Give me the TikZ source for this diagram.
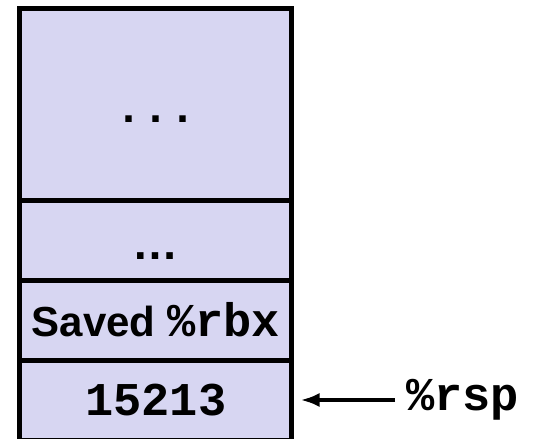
\documentclass[tikz,border=0pt]{standalone}
\usepackage{fontspec}
\setmainfont{Liberation Sans}
\setmonofont{Liberation Mono}
\usetikzlibrary{positioning,arrows.meta}
\definecolor{stackfill}{RGB}{215,214,242}
\newcommand\regfont{\ttfamily\bfseries\fontsize{47}{47}\selectfont}

\begin{document}
\begin{tikzpicture}[
  x=1pt, y=-1pt,
  node distance=0pt,
  cell/.style={draw, fill=stackfill, line width=5pt, minimum width=272pt,
    outer sep=0pt, inner sep=0pt, font=\bfseries\fontsize{42}{42}\selectfont},
  code/.style={font=\regfont},
  arr/.style={-{Latex[length=19pt,width=14pt]}, line width=4.5pt}
]
\useasboundingbox (0,0) rectangle (536,439);

% stack cells, top to bottom
\node[cell, minimum height=192pt, text height=35pt, text depth=0pt] (older) at (155.8,104.5)
  {\ttfamily\fontsize{45}{45}\selectfont ...};
\node[cell, minimum height=79.5pt, text height=37.5pt, text depth=0pt, below=of older] (more)
  {\fontsize{46}{46}\selectfont …};
\node[cell, minimum height=80pt, below=of more] (saved) {Saved {\regfont\%rbx}};
\node[cell, minimum height=80pt, below=of saved, code] (val) {15213};

% stack pointer
\node[code, anchor=west, inner xsep=11pt] (rsp) at (395,400) {\%rsp};
\draw[arr, shorten >=8.7pt] (rsp.west |- val) -- (val.east);
\end{tikzpicture}
\end{document}
